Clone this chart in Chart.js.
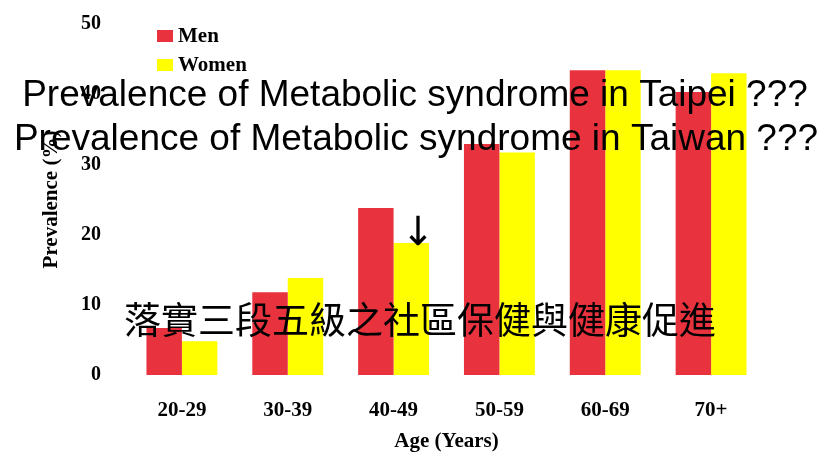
<!DOCTYPE html>
<html>
<head>
<meta charset="utf-8">
<script src="https://cdn.jsdelivr.net/npm/chart.js@4.4.1/dist/chart.umd.min.js"></script>
<style>
    html, body { margin: 0; padding: 0; background: #fff; }
    #wrap { width: 826px; height: 454px; }
</style>
</head>
<body>
<div id="wrap"><canvas id="chart" width="826" height="454"></canvas></div>
<script>
    const ageGroups = ["20-29", "30-39", "40-49", "50-59", "60-69", "70+"];
    const menValues = [6.7, 11.8, 23.8, 32.9, 43.4, 40.3];
    const womenValues = [4.8, 13.8, 18.8, 31.7, 43.4, 43.0];
    const yTicks = [0, 10, 20, 30, 40, 50];

    const serif = '"Liberation Serif", "Times New Roman", serif';

    // legend drawn inside the plot, top-left, like the slide
    const insideLegend = {
        id: "insideLegend",
        afterDatasetsDraw(chart) {
            const ctx = chart.ctx;
            const left = chart.chartArea.left + 28;
            ctx.save();
            ctx.font = "bold 21px " + serif;
            ctx.textBaseline = "middle";
            ctx.textAlign = "left";
            chart.data.datasets.forEach((ds, i) => {
                const y = 37 + i * 29;
                ctx.fillStyle = ds.backgroundColor;
                ctx.fillRect(left, y - 7, 16, 12);
                ctx.fillStyle = "#000";
                ctx.fillText(ds.label, left + 21, y);
            });
            ctx.restore();
        }
    };

    // slide texts lying over the chart
    const slideText = {
        id: "slideText",
        afterDraw(chart) {
            const ctx = chart.ctx;
            ctx.save();
            ctx.fillStyle = "#000";
            ctx.textAlign = "center";
            ctx.textBaseline = "alphabetic";
            ctx.font = '37px "Liberation Sans", Arial, sans-serif';
            ctx.fillText("Prevalence of Metabolic syndrome in Taipei ???", 415, 106);
            ctx.fillText("Prevalence of Metabolic syndrome in Taiwan ???", 416, 150);

            ctx.textBaseline = "middle";
            ctx.font = '37px "Noto Sans CJK TC", sans-serif';
            ctx.fillText("落實三段五級之社區保健與健康促進", 420, 320);

            ctx.font = '40px "DejaVu Sans", sans-serif';
            ctx.fillText("↓", 418, 235);
            ctx.restore();
        }
    };

    new Chart(document.getElementById("chart"), {
        type: "bar",
        data: {
            labels: ageGroups,
            datasets: [{
                label: "Men",
                data: menValues,
                backgroundColor: "#E8333F",
                barPercentage: 1,
                categoryPercentage: 0.67
            }, {
                label: "Women",
                data: womenValues,
                backgroundColor: "#FFFF00",
                barPercentage: 1,
                categoryPercentage: 0.67
            }]
        },
        options: {
            responsive: false,
            animation: false,
            layout: { padding: { top: 24, right: 62, bottom: 0, left: 0 } },
            plugins: {
                legend: { display: false },
                tooltip: { enabled: false }
            },
            scales: {
                x: {
                    grid: { display: false, drawTicks: false },
                    border: { display: false },
                    ticks: {
                        color: "#000",
                        padding: 23,
                        font: { family: serif, size: 21, weight: "bold" }
                    },
                    title: {
                        display: true,
                        text: "Age (Years)",
                        color: "#000",
                        padding: { top: 0, bottom: 0 },
                        font: { family: serif, size: 21, weight: "bold" }
                    },
                    afterFit(scale) { scale.height = 79; }
                },
                y: {
                    min: 0,
                    max: 50,
                    afterBuildTicks(scale) {
                        scale.ticks = yTicks.map(v => ({ value: v }));
                    },
                    // tick marks hidden, their length only keeps the labels off the bars
                    grid: { display: false, drawTicks: true, tickLength: 25 },
                    border: { display: false },
                    ticks: {
                        color: "#000",
                        padding: 3,
                        font: { family: serif, size: 20, weight: "bold" }
                    },
                    title: {
                        display: true,
                        text: "Prevalence (%)",
                        color: "#000",
                        padding: { top: 39, bottom: 0 },
                        font: { family: serif, size: 21, weight: "bold" }
                    },
                    afterFit(scale) { scale.width = 129; }
                }
            }
        },
        plugins: [insideLegend, slideText]
    });
</script>
</body>
</html>
